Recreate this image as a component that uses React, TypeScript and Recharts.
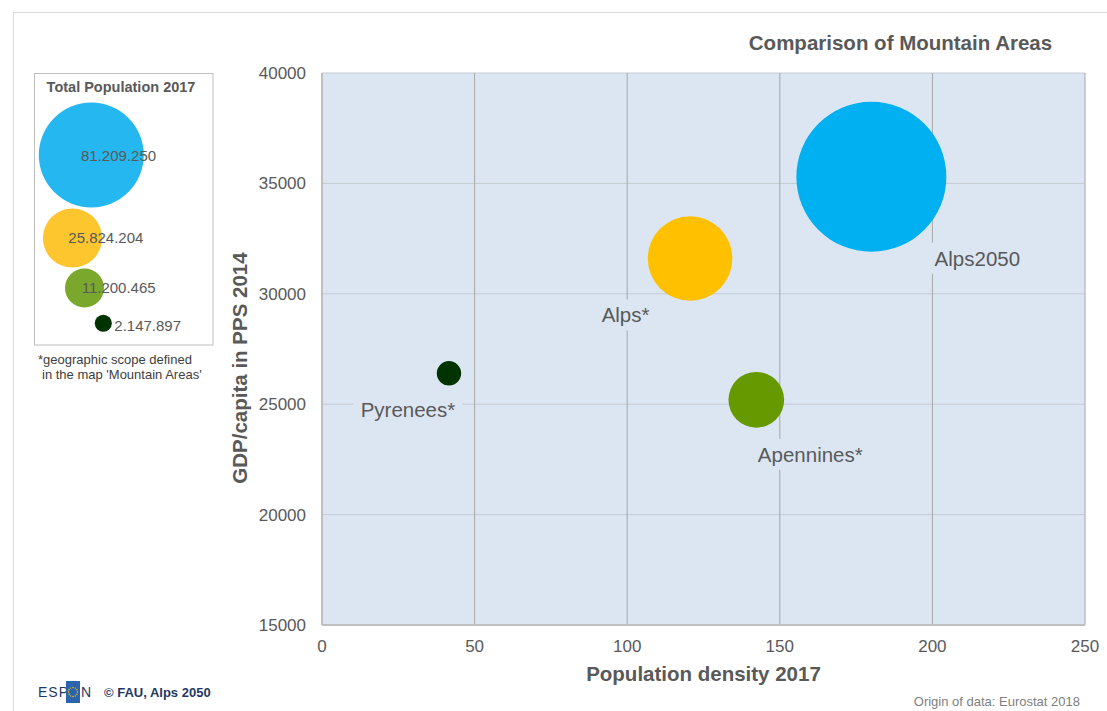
import { CartesianGrid, Cell, LabelList, Scatter, ScatterChart, XAxis, YAxis, ZAxis } from "recharts";

// Mountain areas
const areas = ["Alps2050", "Alps*", "Apennines*", "Pyrenees*"];
const density = [180, 120.6, 142.3, 41.6];
const gdpPps = [35300, 31600, 25200, 26400];
const population = [81209250, 25824204, 11200465, 2147897];
const populationLabels = ["81.209.250", "25.824.204", "11.200.465", "2.147.897"];
const xTicks = [0, 50, 100, 150, 200, 250];
const yTicks = [15000, 20000, 25000, 30000, 35000, 40000];

const colors = ["#00b0f0", "#ffc000", "#669900", "#003300"];
const legendColors = ["#25b7ef", "#fdc52e", "#79a82c", "#003300"];

const FONT = "'Liberation Sans', Arial, sans-serif";
const TEXT = "#595959";
const PLOT_BG = "#dce6f2";
const MAX_R = 75; // px radius of the largest bubble

const data = areas.map((name, i) => ({
  name,
  density: density[i],
  gdp: gdpPps[i],
  pop: population[i]
}));

// label placement relative to the bubble centre: [dx of text centre, dy of baseline]
const labelOffsets: Record<string, [number, number]> = {
  Alps2050: [106, 89],
  "Alps*": [-64.5, 64],
  "Apennines*": [54, 62],
  "Pyrenees*": [-41, 44]
};

let measureCtx: CanvasRenderingContext2D | null = null;
function measure(text: string, font: string): number {
  if (!measureCtx) measureCtx = document.createElement("canvas").getContext("2d");
  if (!measureCtx) return text.length * 10;
  measureCtx.font = font;
  return measureCtx.measureText(text).width;
}

function AreaLabel(props: any) {
  const vb = props.viewBox ?? props;
  const name = String(props.value);
  const off = labelOffsets[name];
  if (!off || vb == null || vb.x == null) return null;
  const cx = vb.x + (vb.width ?? 0) / 2;
  const cy = vb.y + (vb.height ?? 0) / 2;
  const w = measure(name, `20.5px ${FONT}`);
  const tx = cx + off[0];
  const by = cy + off[1];
  return (
    <g>
      <rect x={tx - w / 2 - 7} y={by - 23} width={w + 14} height={31} fill={PLOT_BG} />
      <text x={tx} y={by} textAnchor="middle" fontSize={20.5} fontFamily={FONT} fill={TEXT}>
        {name}
      </text>
    </g>
  );
}

// legend placement (layout only)
const legendCentres: [number, number][] = [
  [91.3, 155],
  [72.5, 238],
  [84.5, 288],
  [103.3, 323.3]
];
const legendTextPos: [number, number][] = [
  [81, 161],
  [68.3, 243.3],
  [81.7, 292.5],
  [114.3, 331]
];

function Decorations() {
  const maxPop = Math.max(...population);
  return (
    <svg
      width={1107}
      height={711}
      style={{ position: "absolute", left: 0, top: 0, pointerEvents: "none" }}
      fontFamily={FONT}
    >
      {/* page frame */}
      <line x1={13} y1={12.5} x2={1107} y2={12.5} stroke="#d9d9d9" />
      <line x1={13.5} y1={12} x2={13.5} y2={711} stroke="#d9d9d9" />

      <text x={900.5} y={50} textAnchor="middle" fontSize={20.5} fontWeight="bold" fill={TEXT}>
        Comparison of Mountain Areas
      </text>

      {/* bubble size legend */}
      <rect x={34.5} y={73.5} width={178.5} height={271.5} fill="#fff" stroke="#bfbfbf" />
      <text x={121} y={92} textAnchor="middle" fontSize={14.5} fontWeight="bold" fill={TEXT}>
        Total Population 2017
      </text>
      {population.map((p, i) => (
        <circle
          key={areas[i]}
          cx={legendCentres[i][0]}
          cy={legendCentres[i][1]}
          r={Math.sqrt(p / maxPop) * 52.5}
          fill={legendColors[i]}
        />
      ))}
      {populationLabels.map((t, i) => (
        <text key={t} x={legendTextPos[i][0]} y={legendTextPos[i][1]} fontSize={15} fill={TEXT}>
          {t}
        </text>
      ))}
      <text x={38} y={364} fontSize={13} fill="#404040">
        *geographic scope defined
      </text>
      <text x={42} y={379} fontSize={13} fill="#404040">
        in the map 'Mountain Areas'
      </text>

      {/* footer */}
      <text x={38} y={697} fontSize={14} letterSpacing={1} fill="#1f3864">
        ESP
      </text>
      <rect x={66} y={681} width={14} height={22} fill="#2b63ad" />
      {Array.from({ length: 12 }).map((_, k) => (
        <circle
          key={k}
          cx={73 + 4.5 * Math.cos((k * Math.PI) / 6)}
          cy={692 + 4.5 * Math.sin((k * Math.PI) / 6)}
          r={0.7}
          fill="#ffd200"
        />
      ))}
      <text x={81} y={697} fontSize={14} fill="#1f3864">
        N
      </text>
      <text x={104} y={697} fontSize={13} fontWeight="bold" fill="#1f3864">
        © FAU, Alps 2050
      </text>
      <text x={1080} y={706} textAnchor="end" fontSize={13} fill="#7f7f7f">
        Origin of data: Eurostat 2018
      </text>
    </svg>
  );
}

export default function App() {
  const maxPop = Math.max(...population);
  return (
    <div
      style={{
        position: "absolute",
        left: 0,
        top: 0,
        width: 1107,
        height: 711,
        background: "#fff",
        fontFamily: FONT,
        overflow: "hidden"
      }}
    >
      <ScatterChart width={1107} height={711} margin={{ top: 73, right: 22, bottom: 56, left: 262 }}>
        <CartesianGrid horizontal vertical={false} stroke="#c4cad2" fill={PLOT_BG} />
        <CartesianGrid horizontal={false} vertical stroke="#a6a6a6" />
        <XAxis
          type="number"
          dataKey="density"
          domain={[0, 250]}
          ticks={xTicks}
          height={30}
          tickLine={false}
          tickMargin={9}
          axisLine={{ stroke: "#bfbfbf", strokeWidth: 2 }}
          tick={{ fontSize: 17, fill: TEXT, fontFamily: FONT }}
          label={() => (
            <text x={703.5} y={681} textAnchor="middle" fontSize={20.5} fontWeight="bold" fontFamily={FONT} fill={TEXT}>
              Population density 2017
            </text>
          )}
        />
        <YAxis
          type="number"
          dataKey="gdp"
          domain={[15000, 40000]}
          ticks={yTicks}
          width={60}
          tickLine={false}
          tickMargin={10}
          axisLine={{ stroke: "#bfbfbf", strokeWidth: 2 }}
          tick={{ fontSize: 17, fill: TEXT, fontFamily: FONT }}
          label={() => (
            <text
              x={247}
              y={368}
              transform="rotate(-90 247 368)"
              textAnchor="middle"
              fontSize={20.5}
              fontWeight="bold"
              fontFamily={FONT}
              fill={TEXT}
            >
              GDP/capita in PPS 2014
            </text>
          )}
        />
        <ZAxis type="number" dataKey="pop" domain={[0, maxPop]} range={[0, Math.PI * MAX_R * MAX_R]} />
        <Scatter data={data} isAnimationActive={false}>
          {data.map((d, i) => (
            <Cell key={d.name} fill={colors[i]} />
          ))}
          <LabelList dataKey="name" content={AreaLabel} />
        </Scatter>
      </ScatterChart>
      <Decorations />
    </div>
  );
}
